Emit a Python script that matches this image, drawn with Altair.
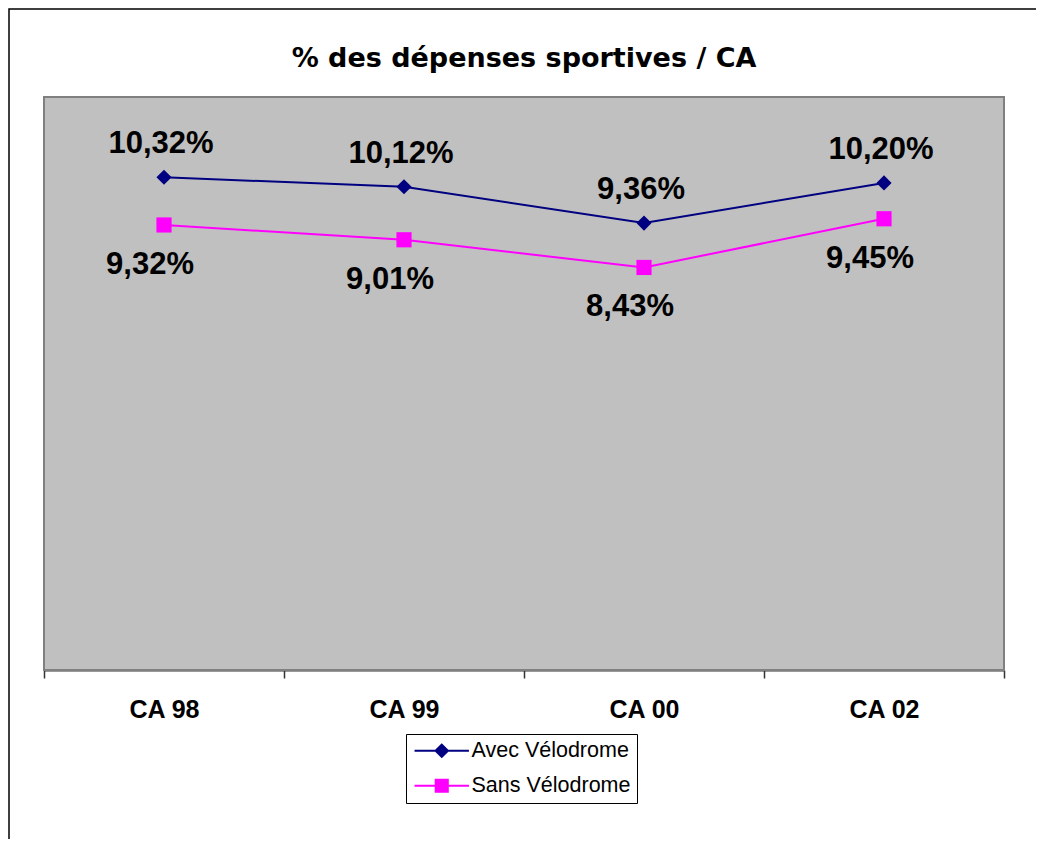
import altair as alt
import pandas as pd

categories = ["CA 98", "CA 99", "CA 00", "CA 02"]
series_names = ["Avec Vélodrome", "Sans Vélodrome"]
avec_velodrome = [10.32, 10.12, 9.36, 10.20]
sans_velodrome = [9.32, 9.01, 8.43, 9.45]
colors = ["#000080", "#FF00FF"]
title_text = "% des dépenses sportives / CA"

rows = []
for s, vals in zip(series_names, [avec_velodrome, sans_velodrome]):
    for c, v in zip(categories, vals):
        rows.append({"cat": c, "series": s, "value": v})
df = pd.DataFrame(rows)

x = alt.X(
    "cat:N",
    sort=categories,
    scale=alt.Scale(type="band", paddingInner=0, paddingOuter=0),
    bandPosition=0.5,
    axis=alt.Axis(
        title=None,
        labelAngle=0,
        tickBand="extent",
        labelFont="Liberation Sans",
        labelFontWeight="bold",
        labelFontSize=25,
        labelColor="black",
        labelPadding=19,
        domainColor="#333333",
        domainWidth=2,
        tickColor="#333333",
        tickWidth=1.5,
        tickSize=8,
        grid=False,
    ),
)
y = alt.Y("value:Q", scale=alt.Scale(domain=[0, 12], nice=False, zero=True), axis=None)
color = alt.Color("series:N", scale=alt.Scale(domain=series_names, range=colors), legend=None)

base = alt.Chart(df)
one_row = alt.Data(values=[{"a": 1}])

frame = alt.Chart(one_row).mark_rect(
    filled=False, stroke="black", strokeWidth=1.5
).encode(x=alt.value(-35), x2=alt.value(3000), y=alt.value(-88), y2=alt.value(3000))

plot_bg = alt.Chart(one_row).mark_rect(
    fill="#C0C0C0", stroke="#808080", strokeWidth=2
).encode(x=alt.value(0), x2=alt.value(960), y=alt.value(0), y2=alt.value(573))

lines = base.mark_line(strokeWidth=2).encode(x=x, y=y, color=color)

pts_avec = base.transform_filter(alt.datum.series == series_names[0]).mark_point(
    filled=True, opacity=1, size=230, shape="diamond"
).encode(x=x, y=y, color=color)

pts_sans = base.transform_filter(alt.datum.series == series_names[1]).mark_point(
    filled=True, opacity=1, size=230, shape="square"
).encode(x=x, y=y, color=color)

label_expr = "replace(format(datum.value, '.2f'), '.', ',') + '%'"
txt_style = dict(font="Liberation Sans", fontWeight="bold", fontSize=31, baseline="middle", color="black")

text_avec = base.transform_filter(alt.datum.series == series_names[0]).transform_calculate(
    label=label_expr
).mark_text(dy=-33, dx=-3, **txt_style).encode(x=x, y=y, text="label:N")

text_sans = base.transform_filter(alt.datum.series == series_names[1]).transform_calculate(
    label=label_expr
).mark_text(dy=40, dx=-14, **txt_style).encode(x=x, y=y, text="label:N")

# legend symbols: a filled thin bar (the line) plus the marker
diamond_line = "M-3.4,-0.125H3.4V0.125H-3.4Z M0,-0.95L0.95,0L0,0.95L-0.95,0Z"
square_line = "M-3.4,-0.125H3.4V0.125H-3.4Z M-0.88,-0.88H0.88V0.88H-0.88Z"

legend_def = alt.Legend(
    title=None,
    orient="none",
    legendX=362,
    legendY=637,
    strokeColor="black",
    fillColor="white",
    padding=6,
    labelFont="Liberation Sans",
    labelFontSize=21.5,
    labelColor="black",
    labelLimit=400,
    symbolSize=256,
    symbolStrokeWidth=2,
    symbolOffset=19,
    labelOffset=19,
    symbolOpacity=1,
)

legend_layer = base.transform_filter("false").mark_point(filled=True, opacity=1).encode(
    shape=alt.Shape(
        "series:N",
        scale=alt.Scale(domain=series_names, range=[diamond_line, square_line]),
        legend=legend_def,
    ),
    color=alt.Color(
        "series:N",
        scale=alt.Scale(domain=series_names, range=colors),
        legend=legend_def,
    ),
)

chart = (
    alt.layer(frame, plot_bg, lines, pts_avec, pts_sans, text_avec, text_sans, legend_layer)
    .resolve_scale(shape="independent", color="independent")
    .properties(
        width=960,
        height=573,
        padding={"left": 36, "top": 89, "right": 32, "bottom": 169},
        autosize=alt.AutoSizeParams(type="none"),
        title=alt.TitleParams(
            title_text,
            font="DejaVu Sans",
            fontWeight="bold",
            fontSize=27,
            color="black",
            anchor="middle",
            offset=-65,
        ),
    )
    .configure_view(fill="#C0C0C0", stroke="#808080", strokeWidth=2)
    .configure_legend(rowPadding=11)
)

chart.save("out.html", embed_options={"renderer": "svg", "actions": False})
